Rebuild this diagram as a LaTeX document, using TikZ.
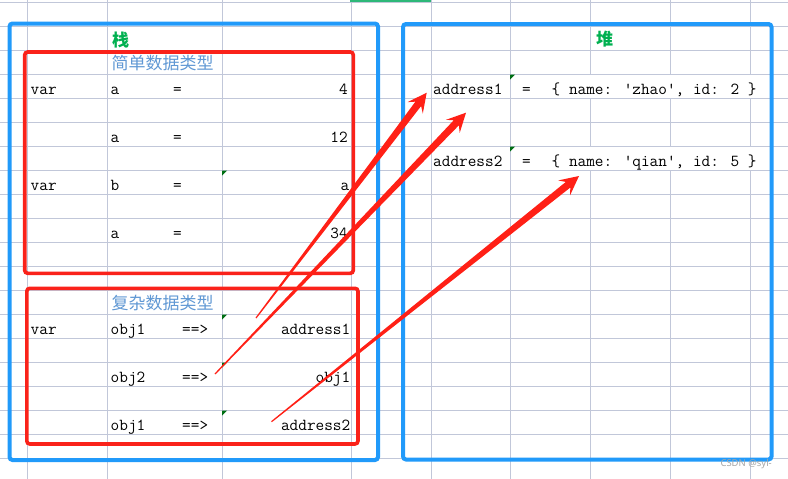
\documentclass[tikz,border=0pt]{standalone}
\usepackage{fontspec}
\newfontfamily\cjk{Noto Sans CJK SC}
\newfontfamily\wmfont{Noto Sans}
\usetikzlibrary{calc}
\definecolor{gridc}{RGB}{193,199,217}
\definecolor{boxblue}{RGB}{33,154,250}
\definecolor{boxred}{RGB}{250,34,26}
\definecolor{arrowred}{RGB}{255,32,22}
\definecolor{headgreen}{RGB}{0,176,80}
\definecolor{subblue}{RGB}{96,152,212}
\definecolor{markgreen}{RGB}{0,110,20}
\definecolor{topgreen}{RGB}{46,184,120}
\tikzset{
  gridline/.style={draw=gridc, line width=1pt},
  mono/.style={inner sep=0pt, font=\ttfamily\fontsize{16.8}{18}\selectfont, text=black},
  monoL/.style={mono, anchor=base west},
  monoR/.style={mono, anchor=base east},
  subhead/.style={inner sep=0pt, anchor=west, font=\cjk\fontsize{17}{18}\selectfont, text=subblue},
  mainhead/.style={inner sep=0pt, font=\cjk\bfseries\fontsize{17}{18}\selectfont, text=headgreen},
  bluebox/.style={draw=boxblue, line width=4pt, rounded corners=3pt},
  redbox/.style={draw=boxred, line width=3.6pt, rounded corners=3pt},
  cellmark/.style={fill=markgreen},
}
\newcommand\redarrow[2]{%
  \coordinate (#1h) at ($(#2)!14pt!(#1)$);
  \coordinate (#1b) at ($(#2)!19pt!(#1)$);
  \fill[arrowred] ($(#1)!0.6pt!90:(#2)$) -- ($(#1h)!3.6pt!90:(#2)$) -- ($(#1b)!9.5pt!90:(#2)$) -- (#2) -- ($(#1b)!9.5pt!-90:(#2)$) -- ($(#1h)!3.6pt!-90:(#2)$) -- ($(#1)!0.6pt!-90:(#2)$) -- cycle;}
\begin{document}
\begin{tikzpicture}[x=1pt,y=-1pt]
\useasboundingbox (0,0) rectangle (788,479);
\fill[white] (0,0) rectangle (788,479);
% grid
\foreach \k in {0,...,19} \draw[gridline] (0,{2.5+24*\k}) -- (788,{2.5+24*\k});
\foreach \x in {27,107,222,351,431,510,590,670,750} \draw[gridline] (\x,0) -- (\x,479);
% overflow masks
\fill[white] (511,75.2) rectangle (776,97.8);
\fill[white] (511,147.2) rectangle (776,169.8);
\draw[topgreen, line width=2pt] (350,1) -- (431,1);
% headings
\node[mainhead] (zhan) at (120.5,40) {栈};
\node[mainhead] (dui) at (604.5,39.5) {堆};
\node[subhead] (simple) at (111.5,63.3) {简单数据类型};
\node[subhead] (complex) at (111.5,303.3) {复杂数据类型};
% simple rows
\node[monoL] (v1) at (30.5,94.3) {var};
\node[monoL] (n1) at (110.5,94.3) {a};
\node[monoL] (q1) at (173,94.3) {=};
\node[monoR] (r1) at (348,94.3) {4};
\node[monoL] (n2) at (110.5,142.3) {a};
\node[monoL] (q2) at (173,142.3) {=};
\node[monoR] (r2) at (348,142.3) {12};
\node[monoL] (v3) at (30.5,190.3) {var};
\node[monoL] (n3) at (110.5,190.3) {b};
\node[monoL] (q3) at (173,190.3) {=};
\node[monoR] (r3) at (349.5,190.3) {a};
\node[monoL] (n4) at (110.5,238.3) {a};
\node[monoL] (q4) at (173,238.3) {=};
\node[monoR] (r4) at (348,238.3) {34};
% complex rows
\node[monoL] (v5) at (30.5,334.3) {var};
\node[monoL] (n5) at (110.5,334.3) {obj1};
\node[monoL] (q5) at (182,334.3) {==>};
\node[monoR] (r5) at (350.5,334.3) {address1};
\node[monoL] (n6) at (110.5,382.3) {obj2};
\node[monoL] (q6) at (182,382.3) {==>};
\node[monoR] (r6) at (350.5,382.3) {obj1};
\node[monoL] (n7) at (110.5,430.3) {obj1};
\node[monoL] (q7) at (182,430.3) {==>};
\node[monoR] (r7) at (350.5,430.3) {address2};
% heap rows
\node[monoL] (h1) at (433,94.3) {address1};
\node[monoL] (hq1) at (522,94.3) {=};
\node[monoL] (hv1) at (551.5,94.3) {\{ name: 'zhao', id: 2 \}};
\node[monoL] (h2) at (433,166.3) {address2};
\node[monoL] (hq2) at (522,166.3) {=};
\node[monoL] (hv2) at (551.5,166.3) {\{ name: 'qian', id: 5 \}};
% comment markers
\foreach \mx/\my in {222/170.5, 222/314.5, 222/362.5, 222/410.5, 510/74.5, 510/146.5}
  \fill[cellmark] (\mx,\my) -- ++(5,0) -- ++(-5,5) -- cycle;
% boxes
\draw[bluebox] (9.5,23.5) rectangle (378,460);
\draw[bluebox] (403,24) rectangle (771.5,459.5);
\draw[redbox] (24.7,52) rectangle (353.3,273.3);
\draw[redbox] (26.8,288.3) rectangle (358,444);
% arrows
\coordinate (s1) at (256,318);
\coordinate (t1) at (426.7,92.7);
\coordinate (s2) at (215,374);
\coordinate (t2) at (466,112.7);
\coordinate (s3) at (271.5,421.7);
\coordinate (t3) at (579,176);
\redarrow{s1}{t1}
\redarrow{s2}{t2}
\redarrow{s3}{t3}
% watermark
\node[inner sep=0pt, anchor=east, font=\wmfont\fontsize{9.5}{10}\selectfont, text=black!35] (wm) at (772,464.5) {CSDN @syl-};
\end{tikzpicture}
\end{document}
